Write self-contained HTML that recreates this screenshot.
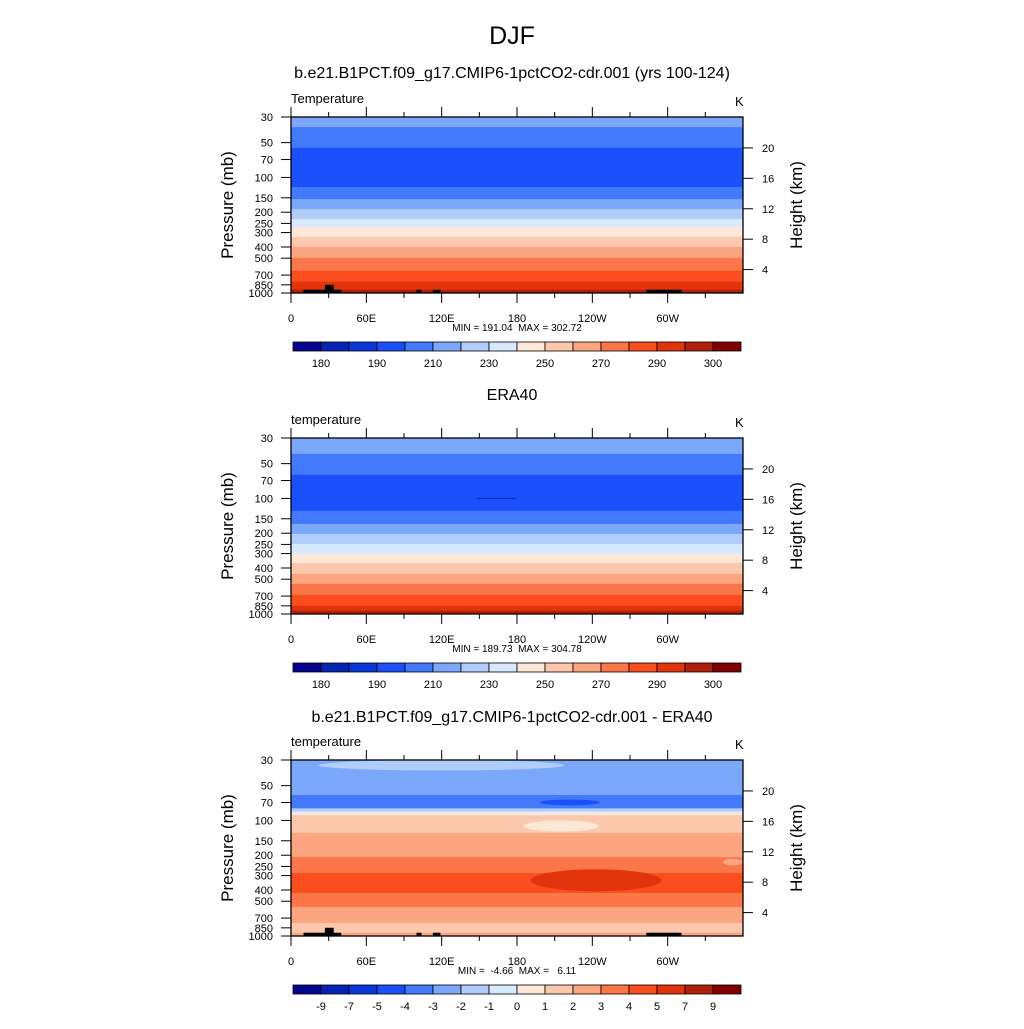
<!DOCTYPE html>
<html><head><meta charset="utf-8"><style>
html,body{margin:0;padding:0;background:#fff;}
svg text{font-family:"Liberation Sans",sans-serif;fill:#000;white-space:pre;}
</style></head><body>
<svg id="chart" width="1024" height="1024" viewBox="0 0 1024 1024" xmlns="http://www.w3.org/2000/svg">
<text x="512" y="44" font-size="25" text-anchor="middle">DJF</text>
</svg>
<script>
const palette=["#04048c","#0624b4","#0a37d8","#1b4ffa","#4379fb","#7ca8fb","#b0cdfb","#d8eafd","#fde7d6","#fcc8ad","#fba680","#fb7648","#fb4e1e","#e1340c","#b01f0a","#800000"];
const lonTicks=[0,60,120,180,240,300];
const lonTickLabels=["0","60E","120E","180","120W","60W"];
const presTicks=[30,50,70,100,150,200,250,300,400,500,700,850,1000];
const heightTicks=[4,8,12,16,20];
// band boundaries (mb) and colour indices (top to bottom)
const p1Bounds=[36.7,55.5,121,154,188,229,268,327,399,496,642,799,937];
const p1Colors=[5,4,3,4,5,6,7,8,9,10,11,12,13,14];
const p2Bounds=[41.2,62.5,128,166,203,248,302,362,450,548,683,849,937];
const p2Colors=[5,4,3,4,5,6,7,8,9,10,11,12,13,14];
const p3Bounds=[60.2,78.6,83.7,86.5,89.9,128,208,285,424,561,772,937];
const p3Colors=[5,4,6,7,8,9,10,11,12,11,10,9,10];
// blobs: lon centre, lon half-width, pressure top/bottom, colour
const p3BlobLon=[120,222,243,352,215];
const p3BlobLonHalf=[98,24,52,8,30];
const p3BlobPTop=[30,66,265,215,100];
const p3BlobPBot=[37,74,410,245,125];
const p3BlobColor=[6,3,13,10,8];
// topography: lon start, lon end, top pressure
const topoLon0=[10,27,100,113,283];
const topoLon1=[40,34,104,119,311];
const topoTop=[937,849,937,937,937];
const cb1Labels=["180","190","210","230","250","270","290","300"];
const cb3Labels=["-9","-7","-5","-4","-3","-2","-1","0","1","2","3","4","5","7","9"];

const NS="http://www.w3.org/2000/svg";
const svg=document.getElementById('chart');
const X0=291,X1=743,H=176;
function xOf(lon){return X0+(lon/360)*(X1-X0);}
function yOf(p,top){return top+H*Math.log10(p/30)/Math.log10(1000/30);}
function zToP(z){return 1150*Math.exp(-z/6.6);}
function mk(tag,attrs,parent){const e=document.createElementNS(NS,tag);for(const k in attrs)e.setAttribute(k,attrs[k]);(parent||svg).appendChild(e);return e;}
function txt(s,x,y,size,anchor,parent){const t=mk('text',{x:x,y:y,'font-size':size,'text-anchor':anchor||'start'},parent);t.textContent=s;return t;}

function panel(top,bounds,colors,name,title,label,minmax,blobs,topo,cbLabels,cbStep){
  const g=mk('g',{});
  
  
  if(title){const t=txt(title,512,top-38,16,'middle',g);}
  const lt=txt(label,291,top-14,13,'start',g);
  
  
  const kt=txt('K',735,top-11,13,'start',g);
  
  
  const edges=[30].concat(bounds).concat([1000]);
  for(let i=0;i<colors.length;i++){
    const y0=yOf(edges[i],top),y1=yOf(edges[i+1],top);
    const r=mk('rect',{x:X0,y:y0,width:X1-X0,height:y1-y0+0.5,fill:palette[colors[i]]},g);
    
    
  }
  if(blobs){
    for(let i=0;i<p3BlobLon.length;i++){
      const cx=xOf(p3BlobLon[i]),rx=xOf(p3BlobLonHalf[i])-X0;
      const yt=yOf(p3BlobPTop[i],top),yb=yOf(p3BlobPBot[i],top);
      const e=mk('ellipse',{cx:Math.min(cx,X1),cy:(yt+yb)/2,rx:rx,ry:(yb-yt)/2,fill:palette[p3BlobColor[i]]},g);
      
      
    }
  }
  if(topo){
    for(let i=0;i<topoLon0.length;i++){
      const r=mk('rect',{x:xOf(topoLon0[i]),y:yOf(topoTop[i],top),width:xOf(topoLon1[i])-xOf(topoLon0[i]),height:top+H-yOf(topoTop[i],top),fill:'#000'},g);
      
      
    }
  }
  const fr=mk('rect',{x:X0,y:top,width:X1-X0,height:H,fill:'none',stroke:'#000','stroke-width':1.3},g);
  
  
  for(let lon=0;lon<=330;lon+=30){
    const x=xOf(lon),len=lon%60===0?10:5;
    mk('line',{x1:x,y1:top,x2:x,y2:top-len,stroke:'#000','stroke-width':1},g);
    mk('line',{x1:x,y1:top+H,x2:x,y2:top+H+len,stroke:'#000','stroke-width':1},g);
  }
  lonTicks.forEach((lon,i)=>{const t=txt(lonTickLabels[i],xOf(lon),top+H+29,11,'middle',g);});
  presTicks.forEach(p=>{const y=yOf(p,top);mk('line',{x1:X0,y1:y,x2:X0-10,y2:y,stroke:'#000','stroke-width':1},g);
    const t=txt(String(p),273,y+4,11,'end',g);});
  heightTicks.forEach(z=>{const y=yOf(zToP(z),top);mk('line',{x1:X1,y1:y,x2:X1+10,y2:y,stroke:'#000','stroke-width':1},g);
    const t=txt(String(z),762,y+4,11,'start',g);});
  const yl=txt('Pressure (mb)',0,0,17,'middle',g);
  yl.setAttribute('transform','translate(233,'+(top+88)+') rotate(-90)');
  
  
  const hl=txt('Height (km)',0,0,17,'middle',g);
  hl.setAttribute('transform','translate(802,'+(top+88)+') rotate(-90)');
  
  
  const mm=txt(minmax,517,top+H+38,10,'middle',g);
  
  
  const cy=top+225,cw=28;
  for(let i=0;i<16;i++){
    const r=mk('rect',{x:293+i*cw,y:cy,width:cw,height:9,fill:palette[i],stroke:'#000','stroke-width':0.8},g);
    
    
  }
  cbLabels.forEach((s,i)=>{const k=1+i*cbStep;const t=txt(s,293+k*cw,cy+25,11,'middle',g);});
}
const sub=txt('b.e21.B1PCT.f09_g17.CMIP6-1pctCO2-cdr.001 (yrs 100-124)',512,78,16,'middle');


panel(117,p1Bounds,p1Colors,'model-panel',null,'Temperature','MIN = 191.04  MAX = 302.72',false,true,cb1Labels,2);
panel(438,p2Bounds,p2Colors,'era40-panel','ERA40','temperature','MIN = 189.73  MAX = 304.78',false,false,cb1Labels,2);
const ln=mk('line',{x1:xOf(148),y1:yOf(100,438),x2:xOf(179),y2:yOf(100,438),stroke:'#0624b4','stroke-width':1});


panel(760,p3Bounds,p3Colors,'difference-panel','b.e21.B1PCT.f09_g17.CMIP6-1pctCO2-cdr.001 - ERA40','temperature','MIN =  -4.66  MAX =   6.11',true,true,cb3Labels,1);
</script>
</body></html>
